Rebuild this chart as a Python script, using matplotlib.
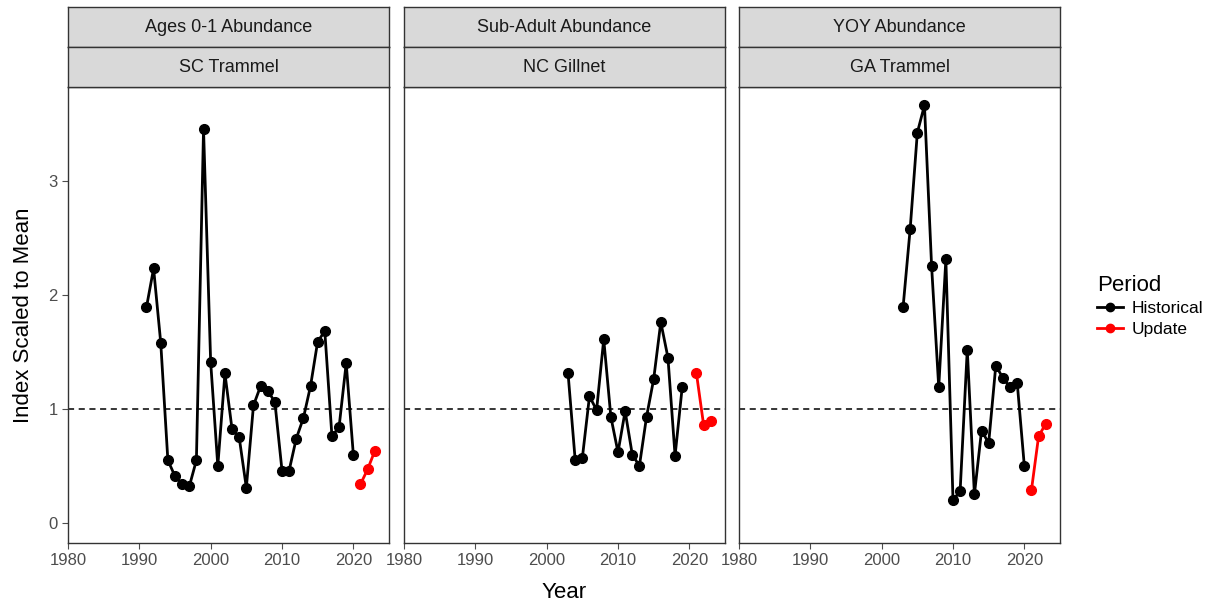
import matplotlib.pyplot as plt
from matplotlib.lines import Line2D

plt.rcParams['font.family'] = ['Liberation Sans', 'DejaVu Sans']

W, H = 1232, 606

titles_top = ["Ages 0-1 Abundance", "Sub-Adult Abundance", "YOY Abundance"]
titles_bot = ["SC Trammel", "NC Gillnet", "GA Trammel"]

sc_years = list(range(1991, 2021))
sc_hist = [1.89, 2.23, 1.58, 0.55, 0.41, 0.34, 0.32, 0.55, 3.45, 1.41,
           0.50, 1.31, 0.82, 0.75, 0.31, 1.03, 1.20, 1.16, 1.06, 0.46,
           0.46, 0.74, 0.92, 1.20, 1.59, 1.68, 0.76, 0.84, 1.40, 0.60]
sc_upd_years = [2021, 2022, 2023]
sc_upd = [0.34, 0.47, 0.63]

nc_years = list(range(2003, 2020))
nc_hist = [1.31, 0.55, 0.57, 1.11, 0.99, 1.61, 0.93, 0.62, 0.98, 0.60,
           0.50, 0.93, 1.26, 1.76, 1.45, 0.59, 1.19]
nc_upd_years = [2021, 2022, 2023]
nc_upd = [1.31, 0.86, 0.89]

ga_years = list(range(2003, 2021))
ga_hist = [1.89, 2.58, 3.42, 3.66, 2.25, 1.19, 2.31, 0.20, 0.28, 1.52,
           0.25, 0.81, 0.70, 1.38, 1.27, 1.19, 1.23, 0.50]
ga_upd_years = [2021, 2022, 2023]
ga_upd = [0.29, 0.76, 0.87]

series = [(sc_years, sc_hist, sc_upd_years, sc_upd),
          (nc_years, nc_hist, nc_upd_years, nc_upd),
          (ga_years, ga_hist, ga_upd_years, ga_upd)]

fig = plt.figure(figsize=(W / 100, H / 100), dpi=100)
lefts = [68, 404, 739]
pw = 321
for i, (yrs, hv, uy, uv) in enumerate(series):
    x0 = lefts[i] / W
    ax = fig.add_axes([x0, (H - 543) / H, pw / W, (543 - 87) / H])
    ax.axhline(1, color="black", ls=(0, (4, 3)), lw=1.1)
    ax.plot(yrs, hv, color="black", lw=2, marker="o", ms=7)
    ax.plot(uy, uv, color="red", lw=2, marker="o", ms=7)
    ax.set_xlim(1980, 2025)
    ax.set_ylim(-0.175, 3.82)
    ax.set_xticks([1980, 1990, 2000, 2010, 2020])
    ax.set_yticks([0, 1, 2, 3])
    ax.tick_params(labelsize=12, colors="#4d4d4d", length=4, width=0.8)
    if i > 0:
        ax.set_yticklabels([])
        ax.tick_params(axis="y", length=0)
    for s in ax.spines.values():
        s.set_color("#333333")
        s.set_linewidth(1)
    # facet strips
    for txt, top in [(titles_top[i], 7), (titles_bot[i], 47)]:
        sax = fig.add_axes([x0, (H - top - 40) / H, pw / W, 40 / H])
        sax.set_facecolor("#d9d9d9")
        sax.set_xticks([])
        sax.set_yticks([])
        for s in sax.spines.values():
            s.set_color("#333333")
            s.set_linewidth(1)
        sax.text(0.5, 0.5, txt, ha="center", va="center", fontsize=13,
                 color="#1a1a1a", transform=sax.transAxes)

fig.text(564 / W, 1 - 592 / H, "Year", ha="center", va="center", fontsize=16)
fig.text(24 / W, 1 - 315 / H, "Index Scaled to Mean", ha="center", va="center",
         fontsize=16, rotation=90)

handles = [Line2D([], [], color="black", lw=2, marker="o", ms=6),
           Line2D([], [], color="red", lw=2, marker="o", ms=6)]
leg = fig.legend(handles, ["Historical", "Update"], title="Period",
                 loc="upper left", bbox_to_anchor=(1090 / W, 1 - 268 / H),
                 frameon=False, fontsize=12.5, title_fontsize=16, handlelength=1.5,
                 handletextpad=0.5, labelspacing=0.3, borderaxespad=0)
leg._legend_box.align = "left"

fig.savefig("out.png", dpi=100)
